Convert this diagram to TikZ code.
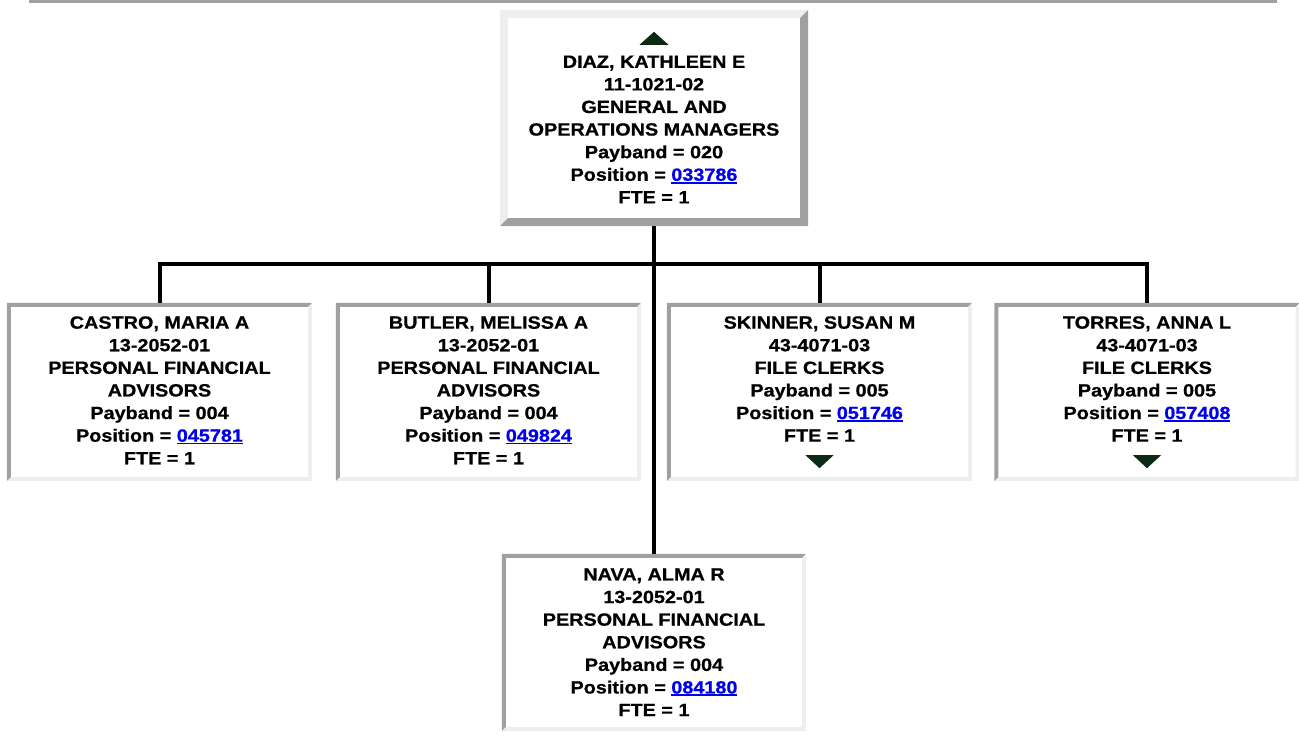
\documentclass[tikz,border=0pt]{standalone}
\usepackage{fontspec}
\setmainfont{Liberation Sans}[FakeStretch=1.12, BoldFeatures={FakeBold=0.7}]
\usepackage{tikz}
\usepackage{xcolor}
\usetikzlibrary{positioning}
\definecolor{edgedark}{HTML}{A0A0A0}
\definecolor{edgelight}{HTML}{EEEEEE}
\definecolor{linkblue}{HTML}{0000EE}
\definecolor{markgreen}{HTML}{0C2A12}
\newcommand{\poslink}[1]{\textcolor{linkblue}{\setbox0=\hbox{#1}\rlap{\rule[-2.8pt]{\wd0}{1.8pt}}\box0}}
\tikzset{
        box_node/.style={rectangle, fill=white, inner sep=0pt, minimum width=305pt, minimum height=178pt},
        box_top/.style={box_node, minimum width=308pt, minimum height=216pt},
        box_text/.style={align=center, inner sep=0pt, font=\bfseries\fontsize{17.7}{22.6}\selectfont},
        org_line/.style={line width=4pt, draw=black},
        mark_tri/.style={fill=markgreen}
    }

\begin{document}
\begin{tikzpicture}[x=1pt, y=1pt]
    \useasboundingbox (0,0) rectangle (1299,-740);
    \draw[edgedark, line width=3pt] (29,-1.5) -- (1277,-1.5);
    % boxes
    \node[box_top] (diaz) at (654,-118) {};
    \node[box_node] (castro) at (159.5,-392) {};
    \node[box_node] (butler) at (488.5,-392) {};
    \node[box_node] (skinner) at (819.5,-392) {};
    \node[box_node] (torres) at (1147,-392) {};
    \node[box_node, minimum width=304pt, minimum height=177pt] (nava) at (654,-642.5) {};
    % raised border on top, sunken border below
    \fill[edgelight] (diaz.south west) -- (diaz.north west) -- (diaz.north east)
        -- ([shift={(-8pt,-8pt)}]diaz.north east) -- ([shift={(8pt,-8pt)}]diaz.north west)
        -- ([shift={(8pt,8pt)}]diaz.south west) -- cycle;
    \fill[edgedark] (diaz.south west) -- (diaz.south east) -- (diaz.north east)
        -- ([shift={(-8pt,-8pt)}]diaz.north east) -- ([shift={(-8pt,8pt)}]diaz.south east)
        -- ([shift={(8pt,8pt)}]diaz.south west) -- cycle;
    \foreach \n in {castro,butler,skinner,torres,nava} {
        \fill[edgedark] (\n.south west) -- (\n.north west) -- (\n.north east)
            -- ([shift={(-4pt,-4pt)}]\n.north east) -- ([shift={(4pt,-4pt)}]\n.north west)
            -- ([shift={(4pt,4pt)}]\n.south west) -- cycle;
        \fill[edgelight] (\n.south west) -- (\n.south east) -- (\n.north east)
            -- ([shift={(-4pt,-4pt)}]\n.north east) -- ([shift={(-4pt,4pt)}]\n.south east)
            -- ([shift={(4pt,4pt)}]\n.south west) -- cycle;
    }
    % texts
    \node[box_text, below=45.6pt of diaz.north] (diaz_txt) {DIAZ, KATHLEEN E\\11-1021-02\\GENERAL AND\\OPERATIONS MANAGERS\\Payband = 020\\Position = \poslink{033786}\\FTE = 1};
    \node[box_text, below=13.3pt of castro.north] (castro_txt) {CASTRO, MARIA A\\13-2052-01\\PERSONAL FINANCIAL\\ADVISORS\\Payband = 004\\Position = \poslink{045781}\\FTE = 1};
    \node[box_text, below=13.3pt of butler.north] (butler_txt) {BUTLER, MELISSA A\\13-2052-01\\PERSONAL FINANCIAL\\ADVISORS\\Payband = 004\\Position = \poslink{049824}\\FTE = 1};
    \node[box_text, below=13.3pt of skinner.north] (skinner_txt) {SKINNER, SUSAN M\\43-4071-03\\FILE CLERKS\\Payband = 005\\Position = \poslink{051746}\\FTE = 1};
    \node[box_text, below=13.3pt of torres.north] (torres_txt) {TORRES, ANNA L\\43-4071-03\\FILE CLERKS\\Payband = 005\\Position = \poslink{057408}\\FTE = 1};
    \node[box_text, below=14.3pt of nava.north] (nava_txt) {NAVA, ALMA R\\13-2052-01\\PERSONAL FINANCIAL\\ADVISORS\\Payband = 004\\Position = \poslink{084180}\\FTE = 1};
    % up / down markers
    \fill[mark_tri] ([yshift=-22pt]diaz.north) -- ++(14.5pt,-13pt) -- ++(-29pt,0) -- cycle;
    \fill[mark_tri] ([yshift=13pt]skinner.south) -- ++(14pt,13pt) -- ++(-28pt,0) -- cycle;
    \fill[mark_tri] ([yshift=13pt]torres.south) -- ++(14pt,13pt) -- ++(-28pt,0) -- cycle;
    % connectors
    \coordinate (bus) at (654,-264);
    \draw[org_line] (diaz.south) -- (nava.north);
    \draw[org_line] (castro.north) |- (bus) -| (torres.north);
    \draw[org_line] (butler.north) -- (butler.north |- bus);
    \draw[org_line] (skinner.north) -- (skinner.north |- bus);
\end{tikzpicture}
\end{document}
